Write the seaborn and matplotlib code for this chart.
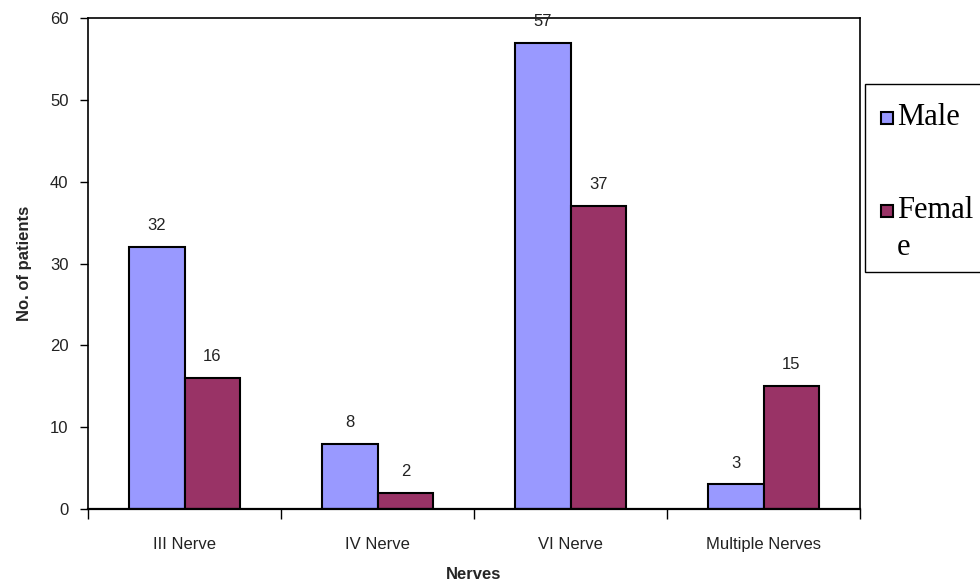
import matplotlib
matplotlib.use("Agg")
import matplotlib.pyplot as plt
import matplotlib.patches as mpatches
import pandas as pd
import seaborn as sns

nerves = ["III Nerve", "IV Nerve", "VI Nerve", "Multiple Nerves"]
male = [32, 8, 57, 3]
female = [16, 2, 37, 15]
series = ["Male", "Female"]
legend_text = ["Male", "Femal\ne"]
colors = {"Male": "#9999FF", "Female": "#993366"}

df = pd.DataFrame({
    "Nerves": nerves * 2,
    "Sex": ["Male"] * len(nerves) + ["Female"] * len(nerves),
    "Patients": male + female,
})

sns.set_theme(style="white")
plt.rcParams["font.family"] = ["Liberation Sans", "DejaVu Sans"]

W, H = 980, 583
fig = plt.figure(figsize=(W / 100, H / 100), dpi=100)
ax = fig.add_axes([88 / W, 1 - 509 / H, (860 - 88) / W, (509 - 18) / H])

sns.barplot(data=df, x="Nerves", y="Patients", hue="Sex", order=nerves,
            hue_order=series, palette=colors, width=0.58, edgecolor="black",
            linewidth=1.5, saturation=1, legend=False, ax=ax)

for cont in ax.containers:
    ax.bar_label(cont, padding=10, fontsize=12, color="#222222")

ax.set_xlim(-0.5, len(nerves) - 0.5)
ax.set_ylim(0, 60)
ax.set_yticks(range(0, 61, 10))
ax.tick_params(axis="y", direction="out", length=6, width=1, color="black",
               labelsize=12, labelcolor="#222222", pad=8, left=True)
ax.set_xticks(range(len(nerves)))
ax.set_xticks([i - 0.5 for i in range(len(nerves) + 1)], minor=True)
ax.tick_params(axis="x", which="major", length=0, pad=20, labelsize=12,
               labelcolor="#222222")
ax.tick_params(axis="x", which="minor", direction="out", length=7, width=1,
               color="black", bottom=True)

for s in ax.spines.values():
    s.set_visible(True)
    s.set_color("black")
    s.set_linewidth(1.2)
ax.spines["bottom"].set_linewidth(1.6)

ax.set_xlabel("Nerves", fontsize=12, fontweight="bold", labelpad=11)
ax.set_ylabel("No. of patients", fontsize=12, fontweight="bold", labelpad=13)

# Legend box on the right, partly running off the figure edge
def fx(px):
    return px / W

def fy(py):
    return 1 - py / H

fig.patches.append(mpatches.Rectangle(
    (fx(865), fy(272)), fx(1000) - fx(865), fy(84) - fy(272),
    transform=fig.transFigure, facecolor="white", edgecolor="black",
    linewidth=1.0, clip_on=False))

# square top (px) and baseline (px) of the label's first line
line_step = 37
for name, label, top, base in zip(series, legend_text, [112, 205], [125, 218]):
    fig.patches.append(mpatches.Rectangle(
        (fx(881), fy(top + 12)), fx(12), 12 / H,
        transform=fig.transFigure, facecolor=colors[name],
        edgecolor="black", linewidth=1.5))
    for i, line in enumerate(label.split("\n")):
        fig.text(fx(897), fy(base + i * line_step), line, ha="left",
                 va="baseline", fontsize=22, family="Liberation Serif",
                 color="black")

fig.savefig("out.png", dpi=100)
